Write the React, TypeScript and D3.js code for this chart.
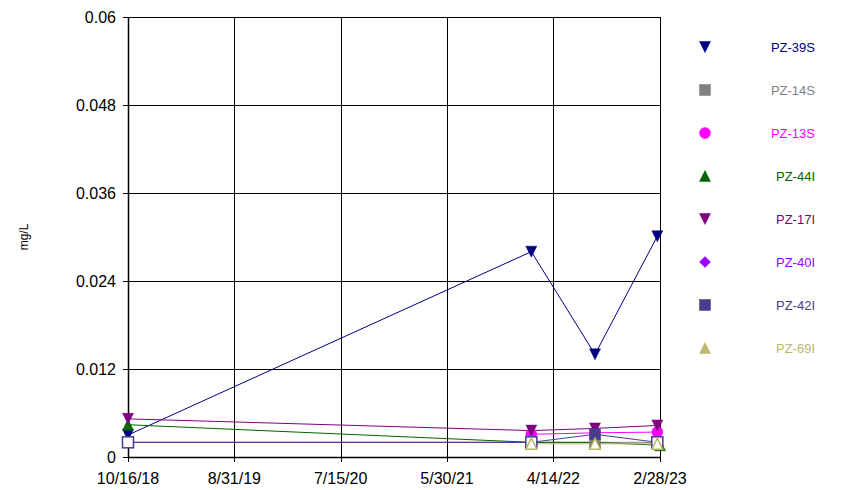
import React from "react";
import * as d3 from "d3";

const seriesNames = ["PZ-39S", "PZ-14S", "PZ-13S", "PZ-44I", "PZ-17I", "PZ-40I", "PZ-42I", "PZ-69I"];
const seriesColors = ["#000080", "#808080", "#FF00FF", "#006400", "#800080", "#9900FF", "#483D8B", "#BDB76B"];
const seriesShapes = ["down", "square", "circle", "up", "down", "diamond", "square", "up"];

const xTickLabels = ["10/16/18", "8/31/19", "7/15/20", "5/30/21", "4/14/22", "2/28/23"];
const yTicks = [0, 0.012, 0.024, 0.036, 0.048, 0.06];
const yTickLabels = ["0", "0.012", "0.024", "0.036", "0.048", "0.06"];

// [date, value, hollow(nondetect)]
const pz39S: [string, number, boolean][] = [["2018-10-16", 0.003, false], ["2022-02-07", 0.028, false], ["2022-08-17", 0.014, false], ["2023-02-20", 0.0301, false]];
const pz14S: [string, number, boolean][] = [["2022-02-07", 0.002, false], ["2022-08-17", 0.002, false], ["2023-02-20", 0.002, false]];
const pz13S: [string, number, boolean][] = [["2022-02-07", 0.0031, false], ["2022-08-17", 0.0033, false], ["2023-02-20", 0.0034, false]];
const pz44I: [string, number, boolean][] = [["2018-10-16", 0.0044, false], ["2022-02-07", 0.002, false], ["2022-08-17", 0.002, false], ["2023-02-28", 0.0016, false]];
const pz17I: [string, number, boolean][] = [["2018-10-16", 0.0052, false], ["2022-02-07", 0.0036, false], ["2022-08-17", 0.0039, false], ["2023-02-20", 0.0043, false]];
const pz40I: [string, number, boolean][] = [["2018-10-16", 0.002, false], ["2022-02-07", 0.002, false]];
const pz42I: [string, number, boolean][] = [["2018-10-16", 0.002, true], ["2022-02-07", 0.002, true], ["2022-08-17", 0.0031, false], ["2023-02-20", 0.002, true]];
const pz69I: [string, number, boolean][] = [["2022-02-07", 0.0018, true], ["2022-08-17", 0.0018, true], ["2023-02-20", 0.0018, true]];

const seriesData = [pz39S, pz14S, pz13S, pz44I, pz17I, pz40I, pz42I, pz69I];
const drawOrder = [1, 5, 0, 3, 2, 4, 6, 7];

const W = 850, H = 490;
const plot = { left: 128, right: 660, top: 17, bottom: 457 };
const FONT = "'Liberation Sans', Arial, Helvetica, sans-serif";

const parseIso = d3.utcParse("%Y-%m-%d");
const parseTick = d3.utcParse("%m/%d/%y");

function Marker({ shape, x, y, color, hollow, s = 5.5 }: any) {
  const fill = hollow ? "#fff" : color;
  const stroke = color;
  const sw = hollow ? 1.5 : 0.5;
  const hs = s;
  if (shape === "down") {
    return <path d={`M${x - hs},${y - hs}L${x + hs},${y - hs}L${x},${y + hs}Z`} fill={fill} stroke={stroke} strokeWidth={sw} />;
  }
  if (shape === "up") {
    return <path d={`M${x - hs},${y + hs}L${x + hs},${y + hs}L${x},${y - hs}Z`} fill={fill} stroke={stroke} strokeWidth={sw} />;
  }
  if (shape === "square") {
    return <rect x={x - hs} y={y - hs} width={hs * 2} height={hs * 2} fill={fill} stroke={stroke} strokeWidth={sw} />;
  }
  if (shape === "circle") {
    return <circle cx={x} cy={y} r={hs} fill={fill} stroke={stroke} strokeWidth={sw} />;
  }
  return <path d={`M${x},${y - hs}L${x + hs},${y}L${x},${y + hs}L${x - hs},${y}Z`} fill={fill} stroke={stroke} strokeWidth={sw} />;
}

export default function App() {
  const xTickDates = xTickLabels.map((l) => parseTick(l) as Date);
  const x = d3.scaleUtc().domain([xTickDates[0], xTickDates[xTickDates.length - 1]]).range([plot.left, plot.right]);
  const y = d3.scaleLinear().domain([0, 0.06]).range([plot.bottom, plot.top]);

  const line = d3
    .line<[string, number, boolean]>()
    .x((d) => x(parseIso(d[0]) as Date))
    .y((d) => y(d[1]));

  const legendY0 = 47, legendStep = 43;

  return (
    <svg width={W} height={H} style={{ position: "absolute", left: 0, top: 0, background: "#fff" }} fontFamily={FONT}>
      <rect x={0} y={0} width={W} height={H} fill="#fff" />
      {yTicks.map((t, i) => (
        <g key={"y" + i}>
          <line x1={plot.left - 5} x2={plot.right} y1={Math.round(y(t)) + 0.5} y2={Math.round(y(t)) + 0.5} stroke="#000" strokeWidth={1} />
          <text x={116} y={y(t) + 6} fontSize={16} textAnchor="end" fill="#000">{yTickLabels[i]}</text>
        </g>
      ))}
      {xTickDates.map((d, i) => (
        <g key={"x" + i}>
          <line x1={Math.round(x(d)) + 0.5} x2={Math.round(x(d)) + 0.5} y1={plot.top} y2={plot.bottom + 5} stroke="#000" strokeWidth={1} />
          <text x={x(d)} y={484} fontSize={16} textAnchor="middle" fill="#000">{xTickLabels[i]}</text>
        </g>
      ))}
      <line x1={plot.left} x2={plot.right} y1={plot.bottom + 0.5} y2={plot.bottom + 0.5} stroke="#000" strokeWidth={1.5} />
      <line x1={plot.left + 0.5} x2={plot.left + 0.5} y1={plot.top} y2={plot.bottom} stroke="#000" strokeWidth={1.5} />

      <text transform={`translate(28,237) rotate(-90)`} fontSize={12} textAnchor="middle" fill="#000">mg/L</text>

      {drawOrder.map((si) => (
        <path key={"l" + si} d={line(seriesData[si]) || ""} fill="none" stroke={seriesColors[si]} strokeWidth={1} />
      ))}
      {drawOrder.map((si) =>
        seriesData[si].map((d, j) => (
          <Marker key={`m${si}-${j}`} shape={seriesShapes[si]} x={x(parseIso(d[0]) as Date)} y={y(d[1])} color={seriesColors[si]} hollow={d[2]} />
        ))
      )}

      {seriesNames.map((n, i) => (
        <g key={"lg" + i}>
          <Marker shape={seriesShapes[i]} x={705} y={legendY0 + i * legendStep} color={seriesColors[i]} hollow={false} />
          <text x={815} y={legendY0 + i * legendStep + 5} fontSize={13} textAnchor="end" fill={seriesColors[i]}>{n}</text>
        </g>
      ))}
    </svg>
  );
}
